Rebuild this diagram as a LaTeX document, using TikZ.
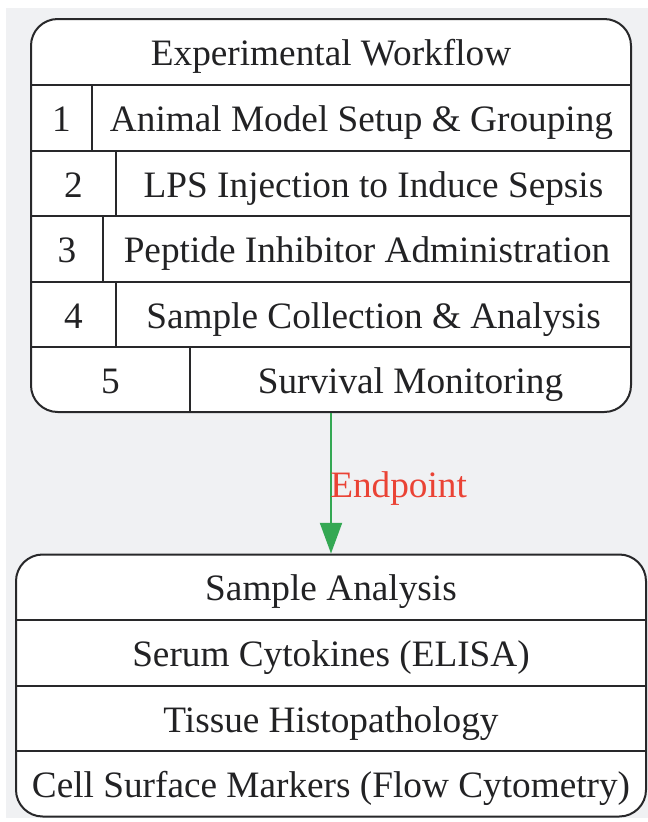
\documentclass[tikz,border=0pt]{standalone}
\usepackage{fontspec}
\setmainfont{Liberation Serif}
\usetikzlibrary{arrows.meta}
\definecolor{bgc}{RGB}{240,241,243}
\definecolor{linec}{RGB}{40,40,42}
\definecolor{textc}{RGB}{34,34,36}
\definecolor{arrowc}{RGB}{52,168,83}
\definecolor{labelc}{RGB}{234,67,53}
\tikzset{
  lbl/.style={anchor=base, inner sep=0pt, font=\fontsize{27.95}{33}\selectfont, text=textc},
  boxshape/.style={draw=linec, fill=white, line width=1.5pt, rounded corners=20pt, inner sep=0pt},
  rule/.style={draw=linec, line width=1.5pt},
  flow/.style={draw=arrowc, line width=1.5pt, -{Triangle[length=23pt,width=16.5pt]}}
}
\begin{document}
\begin{tikzpicture}[x=0.75pt, y=-0.75pt]
\useasboundingbox (0,0) rectangle (648,822);
\fill[bgc] (6,8) rectangle (648,818);
% top box
\node[boxshape, minimum width=450pt, minimum height=294.75pt] (wf) at (331,215.5) {};
\draw[rule] (31,85) -- (631,85);
\draw[rule] (31,151) -- (631,151);
\draw[rule] (31,216) -- (631,216);
\draw[rule] (31,282) -- (631,282);
\draw[rule] (31,347) -- (631,347);
\draw[rule] (92,85) -- (92,151);
\draw[rule] (116,151) -- (116,216);
\draw[rule] (103,216) -- (103,282);
\draw[rule] (116,282) -- (116,347);
\draw[rule] (190,347) -- (190,412);
\node[lbl] (wfh) at (331,65.5) {Experimental Workflow};
\node[lbl] (n1) at (61.5,131.5) {1};
\node[lbl] (t1) at (361.5,131.5) {Animal Model Setup \& Grouping};
\node[lbl] (n2) at (73.5,197) {2};
\node[lbl] (t2) at (373.5,197) {LPS Injection to Induce Sepsis};
\node[lbl] (n3) at (67,262.5) {3};
\node[lbl] (t3) at (367,262.5) {Peptide Inhibitor Administration};
\node[lbl] (n4) at (73.5,328) {4};
\node[lbl] (t4) at (373.5,328) {Sample Collection \& Analysis};
\node[lbl] (n5) at (110.5,393) {5};
\node[lbl] (t5) at (410.5,393) {Survival Monitoring};
% bottom box
\node[boxshape, minimum width=472.5pt, minimum height=196.5pt] (sa) at (331,685.5) {};
\draw[rule] (16,620) -- (646,620);
\draw[rule] (16,686) -- (646,686);
\draw[rule] (16,751) -- (646,751);
\node[lbl] (sah) at (331,600.5) {Sample Analysis};
\node[lbl] (s1) at (331,666.5) {Serum Cytokines (ELISA)};
\node[lbl] (s2) at (331,732) {Tissue Histopathology};
\node[lbl] (s3) at (331,797.5) {Cell Surface Markers (Flow Cytometry)};
% connector
\draw[flow] (wf.south) -- (sa.north);
\node[lbl, anchor=base west, text=labelc] (ep) at (330,497) {Endpoint};
\end{tikzpicture}
\end{document}
